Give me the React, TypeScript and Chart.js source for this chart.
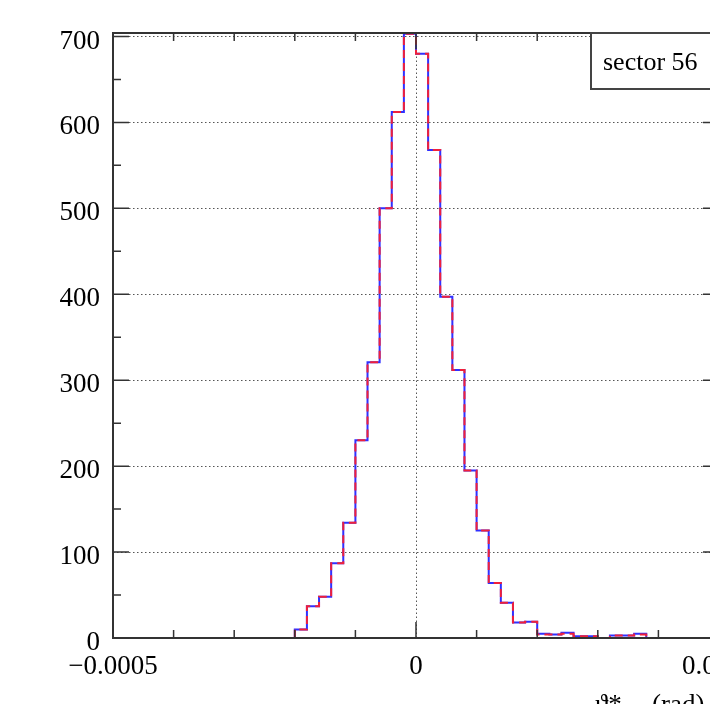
import React, { useEffect, useRef } from 'react';
import { Chart, registerables } from 'chart.js';

Chart.register(...registerables);

// ---- data ----
const BIN_LOW = -0.0005;
const BIN_WIDTH = 0.00002;

const blueCounts = [
  0, 0, 0, 0, 0, 0, 0, 0, 0, 0,
  0, 0, 0, 0, 0, 10, 37, 48, 87, 134,
  230, 321, 500, 612, 703, 680, 568, 397, 312, 195,
  125, 64, 41, 18, 19, 5, 4, 6, 2, 2,
  0, 3, 3, 5, 0, 0, 0, 0, 0, 0,
];
const redCounts = [
  0, 0, 0, 0, 0, 0, 0, 0, 0, 0,
  0, 0, 0, 0, 0, 10, 37, 48, 87, 134,
  230, 321, 500, 612, 703, 680, 568, 397, 312, 195,
  125, 64, 41, 18, 19, 4, 4, 5, 2, 2,
  0, 3, 3, 4, 0, 0, 0, 0, 0, 0,
];

const xTickValues = [-0.0005, 0, 0.0005];
const xTickLabels = ['\u22120.0005', '0', '0.0005'];
const xMinorTicks = [-0.0004, -0.0003, -0.0002, -0.0001, 0.0001, 0.0002, 0.0003, 0.0004];
const yTickValues = [0, 100, 200, 300, 400, 500, 600, 700];
const yMinorTicks = [50, 150, 250, 350, 450, 550, 650];
const legendText = 'sector 56';
const xTitleMain = '\u03D1*';
const xTitleSub = 'x';
const xTitleUnit = '(rad)';

const W = 800;
const H = 740;
const FONT = '"Liberation Serif", "Times New Roman", serif';

function toPoints(counts: number[]) {
  const pts = counts.map((c, i) => ({ x: BIN_LOW + i * BIN_WIDTH, y: c }));
  pts.push({ x: BIN_LOW + counts.length * BIN_WIDTH, y: counts[counts.length - 1] });
  return pts;
}

const rootStyle = {
  id: 'rootStyle',
  beforeDatasetsDraw(chart: any) {
    const { ctx, chartArea: a, scales } = chart;
    const x = scales.x;
    const y = scales.y;
    ctx.save();
    ctx.strokeStyle = '#555';
    ctx.lineWidth = 1;
    ctx.setLineDash([1.5, 2.5]);
    for (const v of yTickValues) {
      if (v === 0) continue;
      const py = Math.round(y.getPixelForValue(v)) + 0.5;
      ctx.beginPath();
      ctx.moveTo(a.left, py);
      ctx.lineTo(a.right, py);
      ctx.stroke();
    }
    const px0 = Math.round(x.getPixelForValue(0)) + 0.5;
    ctx.beginPath();
    ctx.moveTo(px0, a.bottom);
    ctx.lineTo(px0, a.top);
    ctx.stroke();
    ctx.restore();
  },
  afterDatasetsDraw(chart: any) {
    const { ctx, chartArea: a, scales } = chart;
    const x = scales.x;
    const y = scales.y;
    ctx.save();
    ctx.setLineDash([]);
    ctx.strokeStyle = '#333';
    ctx.lineWidth = 2;
    // frame
    ctx.strokeRect(a.left, a.top, a.right - a.left, a.bottom - a.top);
    // x ticks (bottom up, top down)
    ctx.lineWidth = 1.5;
    const drawX = (v: number, len: number) => {
      const px = x.getPixelForValue(v);
      ctx.beginPath();
      ctx.moveTo(px, a.bottom);
      ctx.lineTo(px, a.bottom - len);
      ctx.moveTo(px, a.top);
      ctx.lineTo(px, a.top + len);
      ctx.stroke();
    };
    xTickValues.forEach((v) => drawX(v, 16));
    xMinorTicks.forEach((v) => drawX(v, 8));
    const drawY = (v: number, len: number) => {
      const py = y.getPixelForValue(v);
      ctx.beginPath();
      ctx.moveTo(a.left, py);
      ctx.lineTo(a.left + len, py);
      ctx.moveTo(a.right, py);
      ctx.lineTo(a.right - len, py);
      ctx.stroke();
    };
    yTickValues.forEach((v) => drawY(v, 16));
    yMinorTicks.forEach((v) => drawY(v, 8));

    // legend box
    const bx = 591;
    const by = a.top;
    ctx.fillStyle = '#fff';
    ctx.fillRect(bx, by, 160, 56);
    ctx.strokeStyle = '#444';
    ctx.lineWidth = 2;
    ctx.strokeRect(bx, by, 160, 56);
    ctx.fillStyle = '#000';
    ctx.font = `26px ${FONT}`;
    ctx.textBaseline = 'middle';
    ctx.textAlign = 'left';
    ctx.fillText(legendText, bx + 12, by + 30);

    // x title
    ctx.font = `27px ${FONT}`;
    ctx.textBaseline = 'alphabetic';
    ctx.fillText(xTitleMain, 595, 713);
    ctx.font = `18px ${FONT}`;
    ctx.fillText(xTitleSub, 624, 721);
    ctx.font = `27px ${FONT}`;
    ctx.fillText(xTitleUnit, 652, 713);
    ctx.restore();
  },
};

export default function App() {
  const ref = useRef<HTMLCanvasElement | null>(null);
  useEffect(() => {
    if (!ref.current) return;
    const chart = new Chart(ref.current, {
      type: 'line',
      data: {
        datasets: [
          {
            label: 'red',
            data: toPoints(redCounts),
            borderColor: '#f0203a',
            borderWidth: 2,
            borderDash: [8, 5],
            stepped: true,
            pointRadius: 0,
            fill: false,
            order: 0,
          },
          {
            label: 'blue',
            data: toPoints(blueCounts),
            borderColor: '#3030ff',
            borderWidth: 2,
            stepped: true,
            pointRadius: 0,
            fill: false,
            order: 1,
          },
        ],
      },
      options: {
        animation: false,
        responsive: false,
        devicePixelRatio: 1,
        layout: { padding: { top: 33, right: W - 719, left: 0, bottom: 0 } },
        plugins: { legend: { display: false }, tooltip: { enabled: false } },
        scales: {
          x: {
            type: 'linear',
            min: -0.0005,
            max: 0.0005,
            grid: { display: false, drawTicks: false },
            border: { display: false },
            afterBuildTicks: (s: any) => {
              s.ticks = xTickValues.map((v) => ({ value: v }));
            },
            afterFit: (s: any) => {
              s.height = H - 638;
            },
            ticks: {
              autoSkip: false,
              maxRotation: 0,
              padding: 13,
              color: '#000',
              font: { family: FONT, size: 27 },
              callback: (v: any) => {
                const i = xTickValues.findIndex((t) => Math.abs(t - Number(v)) < 1e-9);
                return i >= 0 ? xTickLabels[i] : '';
              },
            },
          },
          y: {
            type: 'linear',
            min: 0,
            max: 704,
            grid: { display: false, drawTicks: false },
            border: { display: false },
            afterBuildTicks: (s: any) => {
              s.ticks = yTickValues.map((v) => ({ value: v }));
            },
            afterFit: (s: any) => {
              s.width = 113;
            },
            ticks: {
              padding: 13,
              labelOffset: 5,
              color: '#000',
              font: { family: FONT, size: 27 },
              callback: (v: any) => String(v),
            },
          },
        },
      },
      plugins: [rootStyle],
    } as any);
    return () => chart.destroy();
  }, []);
  return (
    <div
      style={{
        position: 'fixed',
        left: 0,
        top: 0,
        width: 710,
        height: 704,
        overflow: 'hidden',
        background: '#fff',
      }}
    >
      <canvas ref={ref} width={W} height={H} style={{ width: W, height: H, display: 'block' }} />
    </div>
  );
}
